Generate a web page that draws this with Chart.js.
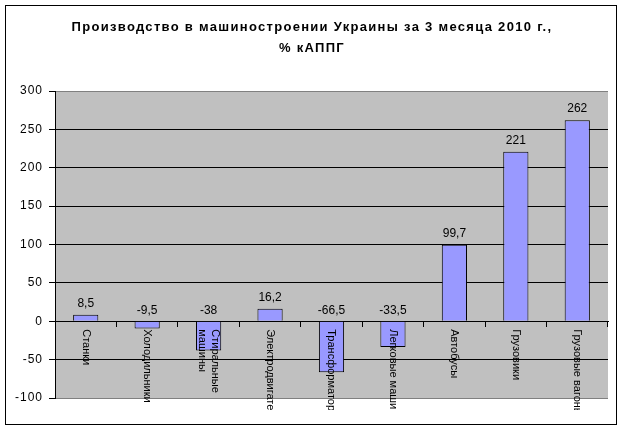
<!DOCTYPE html>
<html lang="ru">
<head>
<meta charset="UTF-8">
<title>Производство в машиностроении Украины</title>
<script src="https://cdn.jsdelivr.net/npm/chart.js"></script>
<style>
    html, body { margin: 0; padding: 0; background: #fff; }
    #wrap { width: 623px; height: 431px; position: relative; }
</style>
</head>
<body>
<div id="wrap"><canvas id="chart"></canvas></div>
<script>
// Data
const categories = [
    'Станки', 'Холодильники', ['Стиральные', 'машины'], 'Электродвигатели',
    'Трансформаторы', 'Легковые машины', 'Автобусы', 'Грузовики', 'Грузовые вагоны'
];
const values = [8.5, -9.5, -38, 16.2, -66.5, -33.5, 99.7, 221, 262];
const titleLines = ['Производство в машиностроении Украины за 3 месяца 2010 г.,', '% кАППГ'];
const yMin = -100, yMax = 300, yStep = 50;

const FONT = '"Liberation Sans", Arial, sans-serif';

// white page, outer frame, title and grey plot area
const backdrop = {
    id: 'backdrop',
    beforeDraw(chart) {
        const { ctx, chartArea: a } = chart;
        ctx.save();
        ctx.fillStyle = '#fff';
        ctx.fillRect(0, 0, chart.width, chart.height);
        ctx.strokeStyle = '#000';
        ctx.lineWidth = 1;
        ctx.strokeRect(5.5, 5.5, 611, 419);
        ctx.fillStyle = '#C0C0C0';
        ctx.fillRect(a.left, a.top, a.right - a.left, a.bottom - a.top);

        ctx.fillStyle = '#000';
        ctx.font = 'bold 13px ' + FONT;
        ctx.letterSpacing = '1.3px';
        ctx.textAlign = 'center';
        ctx.textBaseline = 'middle';
        ctx.fillText(titleLines[0], 312, 27);
        ctx.fillText(titleLines[1], 312, 48);
        ctx.restore();
        // wider spacing for axis numbers, as in the original
        ctx.letterSpacing = '1px';
    }
};

// value labels and rotated category names
const labels = {
    id: 'labels',
    afterDatasetsDraw(chart) {
        const { ctx } = chart;
        const x = chart.scales.x, y = chart.scales.y;
        const meta = chart.getDatasetMeta(0);
        const zero = y.getPixelForValue(0);
        ctx.save();
        ctx.letterSpacing = '0px';
        ctx.fillStyle = '#000';
        ctx.font = '12px ' + FONT;
        ctx.textAlign = 'center';
        ctx.textBaseline = 'bottom';
        values.forEach((v, i) => {
            const px = meta.data[i].x;
            const py = y.getPixelForValue(Math.max(v, 0)) - 5;
            ctx.fillText(String(v).replace('.', ','), px, py);
        });
        ctx.restore();

        ctx.save();
        ctx.letterSpacing = '0px';
        ctx.beginPath();
        ctx.rect(0, 0, chart.width, 410);
        ctx.clip();
        ctx.fillStyle = '#000';
        ctx.font = '11px ' + FONT;
        ctx.textAlign = 'left';
        ctx.textBaseline = 'middle';
        categories.forEach((c, i) => {
            const lines = Array.isArray(c) ? c : [c];
            const px = x.getPixelForValue(i);
            const lh = 13;
            ctx.save();
            ctx.translate(px + (lines.length - 1) * lh / 2, zero + 8);
            ctx.rotate(Math.PI / 2);
            lines.forEach((t, k) => ctx.fillText(t, 0, k * lh));
            ctx.restore();
        });
        ctx.restore();
    }
};

new Chart(document.getElementById('chart'), {
    type: 'bar',
    data: {
        labels: categories,
        datasets: [{
            data: values,
            backgroundColor: '#9999FF',
            borderColor: '#000',
            borderWidth: 1,
            categoryPercentage: 1,
            barPercentage: 0.41
        }]
    },
    options: {
        responsive: true,
        maintainAspectRatio: false,
        animation: false,
        layout: { padding: { left: 0, right: 15, bottom: 33, top: 91 } },
        plugins: {
            legend: { display: false },
            tooltip: { enabled: false },
            title: { display: false }
        },
        scales: {
            x: {
                position: { y: 0 },
                grid: { offset: true, drawOnChartArea: false, tickLength: 5, tickColor: '#000' },
                border: { color: '#000' },
                ticks: { display: false }
            },
            y: {
                min: yMin,
                max: yMax,
                afterFit(s) { s.width = 55; },
                ticks: {
                    stepSize: yStep,
                    color: '#000',
                    padding: 6,
                    font: { family: FONT, size: 12 }
                },
                grid: {
                    color: c => (c.tick && (c.tick.value === yMin || c.tick.value === yMax)) ? '#808080' : '#000',
                    tickColor: '#000',
                    tickLength: 6
                },
                border: { color: '#000' }
            }
        }
    },
    plugins: [backdrop, labels]
});
</script>
</body>
</html>
